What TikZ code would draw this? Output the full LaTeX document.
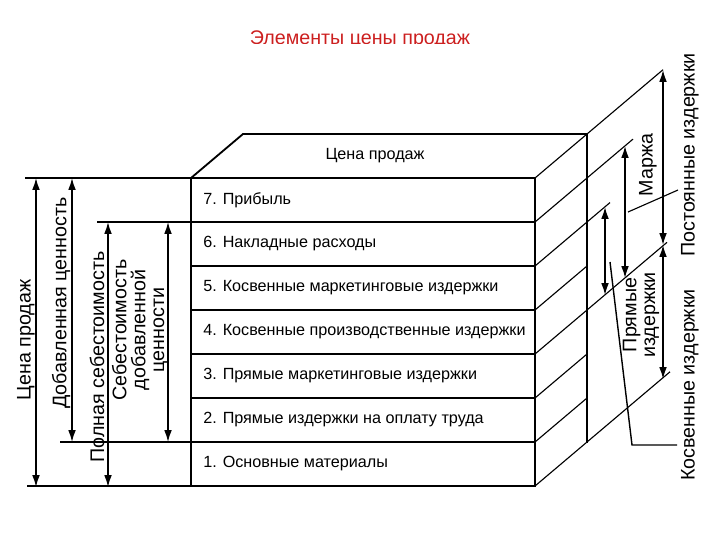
\documentclass[tikz,border=0pt]{standalone}
\usepackage{fontspec}
\setmainfont{Liberation Sans}
\usetikzlibrary{arrows.meta,positioning,calc}
\definecolor{crimson}{HTML}{CC1F1F}

\begin{document}
\begin{tikzpicture}[x=0.025cm,y=-0.025cm,>={Latex[length=8.5pt,width=5.5pt]},
    edge/.style={line width=1.3pt},
    slant/.style={line width=0.8pt},
    dim/.style={<->,line width=1pt},
    row/.style={anchor=west,inner sep=0pt,font=\fontsize{11.5}{13}\selectfont},
    side/.style={rotate=90,inner sep=0pt,align=center,font=\fontsize{14}{13.5}\selectfont}]
  \useasboundingbox (0,0) rectangle (720,540);
  \begin{scope}
    \clip (0,0) rectangle (720,43);
    \node[anchor=base,inner sep=0pt,text=crimson,font=\fontsize{14}{15}\selectfont] (title) at (360,44.5) {Элементы цены продаж};
  \end{scope}
  % box: front, top and side
  \foreach \i/\xl in {0/25,1/97,2/191,3/191,4/191,5/191,6/60,7/27}
    \draw[edge] (\xl,{178+44*\i}) -- (535,{178+44*\i});
  \draw[edge] (191,178) -- (191,487) (535,178) -- (535,487) (587,134) -- (587,443);
  \draw[edge] (191,178) -- (243,134) -- (587,134);
  \foreach \i/\l in {0/128,1/98,2/75,3/52,4/132,5/52,6/52,7/135}
    \draw[slant] (535,{178+44*\i}) -- ++(\l,{-0.846*\l});
  \node[row,anchor=center] (top) at (375,156) {Цена продаж};
  \foreach \t [count=\k from 0] in {7. Прибыль,6. Накладные расходы,5. Косвенные маркетинговые издержки,4. Косвенные производственные издержки,3. Прямые маркетинговые издержки,2. Прямые издержки на оплату труда,1. Основные материалы}
    \node[row] (row\k) at (203,{200+44*\k}) {\t};
  % dimension arrows
  \foreach \n/\x/\ya/\yb in {price/36/178/487,added/72/178/442,full/108/222/487,cost/168/222/442,
      fixed/663/70/245,indirect/663/245/379,margin/625/146/278,direct/605/207/295}{
    \coordinate (\n-t) at (\x,\ya);
    \coordinate (\n-b) at (\x,\yb);
    \draw[dim] (\n-t) -- (\n-b);}
  % leaders
  \coordinate (m1) at (628,212);
  \coordinate (m2) at (678,190);
  \draw[slant] (m1) -- (m2);
  \coordinate (k1) at (610,262);
  \coordinate (k2) at (632,445);
  \coordinate (k3) at (677,445);
  \draw[line width=1pt] (k1) -- (k2) -- (k3);
  % labels
  \node[side] (lprice) at (26,340) {Цена продаж};
  \node[side] (ladded) at (61,303) {Добавленная ценность};
  \node[side] (lfull) at (97,357) {Полная себестоимость};
  \node[side] (lcost) at (140,330) {Себестоимость\\добавленной\\ценности};
  \node[side] (lfixed) at (690,155) {Постоянные издержки};
  \node[side] (lindirect) at (690,385) {Косвенные издержки};
  \node[side] (lmargin) at (648,165) {Маржа};
  \node[side] (ldirect) at (641,315) {Прямые\\издержки};
\end{tikzpicture}
\end{document}
